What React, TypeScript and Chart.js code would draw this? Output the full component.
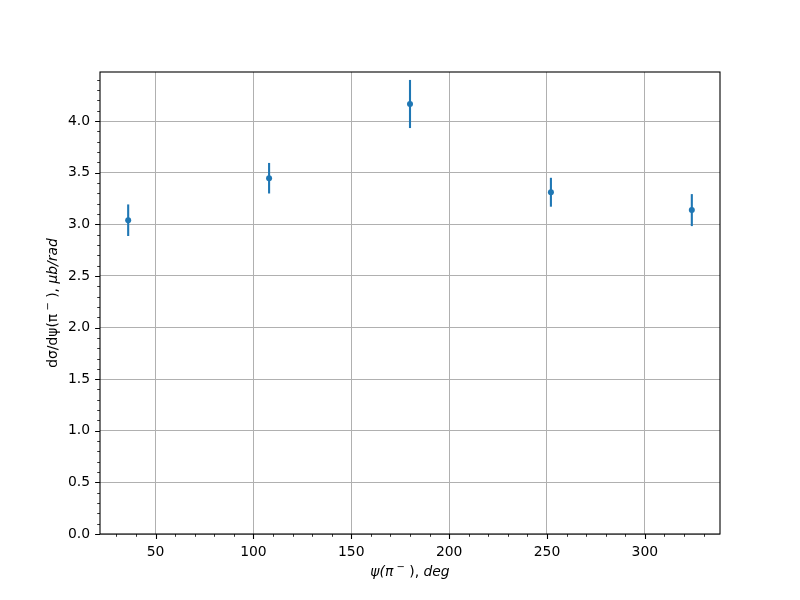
import React, { useEffect, useRef } from "react";
import { Chart, registerables } from "chart.js";

Chart.register(...registerables);

const angles = [36, 108, 180, 252, 324];
const values = [3.04, 3.447, 4.166, 3.311, 3.138];
const errors = [0.153, 0.148, 0.233, 0.14, 0.155];

const xMajorTicks = [50, 100, 150, 200, 250, 300];
const yMajorTicks = [0, 0.5, 1.0, 1.5, 2.0, 2.5, 3.0, 3.5, 4.0];
const xMinorTicks = [30, 40, 60, 70, 80, 90, 110, 120, 130, 140, 160, 170, 180, 190, 210, 220, 230, 240, 260, 270, 280, 290, 310, 320, 330];
const yMinorTicks = [0.1, 0.2, 0.3, 0.4, 0.6, 0.7, 0.8, 0.9, 1.1, 1.2, 1.3, 1.4, 1.6, 1.7, 1.8, 1.9, 2.1, 2.2, 2.3, 2.4, 2.6, 2.7, 2.8, 2.9, 3.1, 3.2, 3.3, 3.4, 3.6, 3.7, 3.8, 3.9, 4.1, 4.2, 4.3, 4.4];

const X_MIN = 21.6;
const X_MAX = 338.4;
const Y_MIN = 0;
const Y_MAX = 4.476;

const BLUE = "#1f77b4";
const FONT = "'DejaVu Sans', sans-serif";
const FS = 13.9;

type Part = [string, string, number];

function drawParts(ctx: any, parts: Part[], cx: number, cy: number) {
  let total = 0;
  for (const [t, f] of parts) {
    ctx.font = f;
    total += ctx.measureText(t).width;
  }
  let x = cx - total / 2;
  ctx.textAlign = "left";
  for (const [t, f, dy] of parts) {
    ctx.font = f;
    ctx.fillText(t, x, cy + dy);
    x += ctx.measureText(t).width;
  }
}

const overlayPlugin = {
  id: "overlay",
  beforeDatasetsDraw(chart: any) {
    const ctx = chart.ctx;
    const xs = chart.scales.x;
    const ys = chart.scales.y;
    ctx.save();
    ctx.strokeStyle = BLUE;
    ctx.lineWidth = 2.1;
    for (let i = 0; i < angles.length; i++) {
      const px = xs.getPixelForValue(angles[i]);
      const top = ys.getPixelForValue(values[i] + errors[i]);
      const bot = ys.getPixelForValue(values[i] - errors[i]);
      ctx.beginPath();
      ctx.moveTo(px, top);
      ctx.lineTo(px, bot);
      ctx.stroke();
    }
    ctx.restore();
  },
  afterDraw(chart: any) {
    const ctx = chart.ctx;
    const a = chart.chartArea;
    const xs = chart.scales.x;
    const ys = chart.scales.y;
    ctx.save();
    ctx.strokeStyle = "#000";
    ctx.lineWidth = 1.1;
    ctx.strokeRect(a.left, a.top, a.right - a.left, a.bottom - a.top);
    ctx.beginPath();
    for (const v of xMajorTicks) {
      const p = Math.round(xs.getPixelForValue(v)) + 0.5;
      ctx.moveTo(p, a.bottom);
      ctx.lineTo(p, a.bottom + 4.9);
    }
    for (const v of yMajorTicks) {
      const p = Math.round(ys.getPixelForValue(v)) + 0.5;
      ctx.moveTo(a.left, p);
      ctx.lineTo(a.left - 4.9, p);
    }
    ctx.stroke();
    ctx.lineWidth = 0.8;
    ctx.beginPath();
    for (const v of xMinorTicks) {
      const p = Math.round(xs.getPixelForValue(v)) + 0.5;
      ctx.moveTo(p, a.bottom);
      ctx.lineTo(p, a.bottom + 2.8);
    }
    for (const v of yMinorTicks) {
      const p = Math.round(ys.getPixelForValue(v)) + 0.5;
      ctx.moveTo(a.left, p);
      ctx.lineTo(a.left - 2.8, p);
    }
    ctx.stroke();

    ctx.fillStyle = "#000";
    ctx.textBaseline = "middle";
    const it = `italic ${FS}px ${FONT}`;
    const sup = `${FS * 0.72}px ${FONT}`;
    const up = `${FS}px ${FONT}`;
    drawParts(
      ctx,
      [
        ["ψ(π", it, 0],
        [" −", sup, -4.5],
        [" ), ", up, 0],
        ["deg", it, 0],
      ],
      (a.left + a.right) / 2,
      572
    );

    const cy = (a.top + a.bottom) / 2;
    ctx.translate(53, cy);
    ctx.rotate(-Math.PI / 2);
    drawParts(
      ctx,
      [
        ["dσ/dψ(π", up, 0],
        [" −", sup, -4.5],
        [" ), ", up, 0],
        ["μb/rad", it, 0],
      ],
      0,
      0
    );
    ctx.restore();
  },
};

export default function App() {
  const ref = useRef<HTMLCanvasElement | null>(null);

  useEffect(() => {
    document.body.style.margin = "0";
    const canvas = ref.current;
    if (!canvas) return;
    const chart = new Chart(canvas, {
      type: "scatter",
      data: {
        datasets: [
          {
            data: angles.map((a, i) => ({ x: a, y: values[i] })),
            backgroundColor: BLUE,
            borderColor: BLUE,
            pointRadius: 3,
            pointHoverRadius: 3,
            borderWidth: 0,
          },
        ],
      },
      options: {
        responsive: false,
        animation: false,
        events: [],
        layout: { padding: { left: 0, top: 72, right: 80, bottom: 0 } },
        plugins: {
          legend: { display: false },
          tooltip: { enabled: false },
        },
        scales: {
          x: {
            type: "linear",
            min: X_MIN,
            max: X_MAX,
            afterBuildTicks: (s: any) => {
              s.ticks = xMajorTicks.map((v) => ({ value: v }));
            },
            afterFit: (s: any) => {
              s.height = 66;
            },
            grid: { color: "#b0b0b0", lineWidth: 1, drawTicks: false },
            border: { display: false },
            ticks: {
              color: "#000",
              padding: 10,
              font: { family: FONT, size: FS },
              maxRotation: 0,
              autoSkip: false,
              callback: (v: any) => String(v),
            },
          },
          y: {
            type: "linear",
            min: Y_MIN,
            max: Y_MAX,
            afterBuildTicks: (s: any) => {
              s.ticks = yMajorTicks.map((v) => ({ value: v }));
            },
            afterFit: (s: any) => {
              s.width = 100;
            },
            grid: { color: "#b0b0b0", lineWidth: 1, drawTicks: false },
            border: { display: false },
            ticks: {
              color: "#000",
              padding: 10,
              font: { family: FONT, size: FS },
              autoSkip: false,
              callback: (v: any) => Number(v).toFixed(1),
            },
          },
        },
      },
      plugins: [overlayPlugin],
    });
    return () => chart.destroy();
  }, []);

  return (
    <div style={{ width: 800, height: 600 }}>
      <canvas ref={ref} width={800} height={600} style={{ display: "block" }} />
    </div>
  );
}
